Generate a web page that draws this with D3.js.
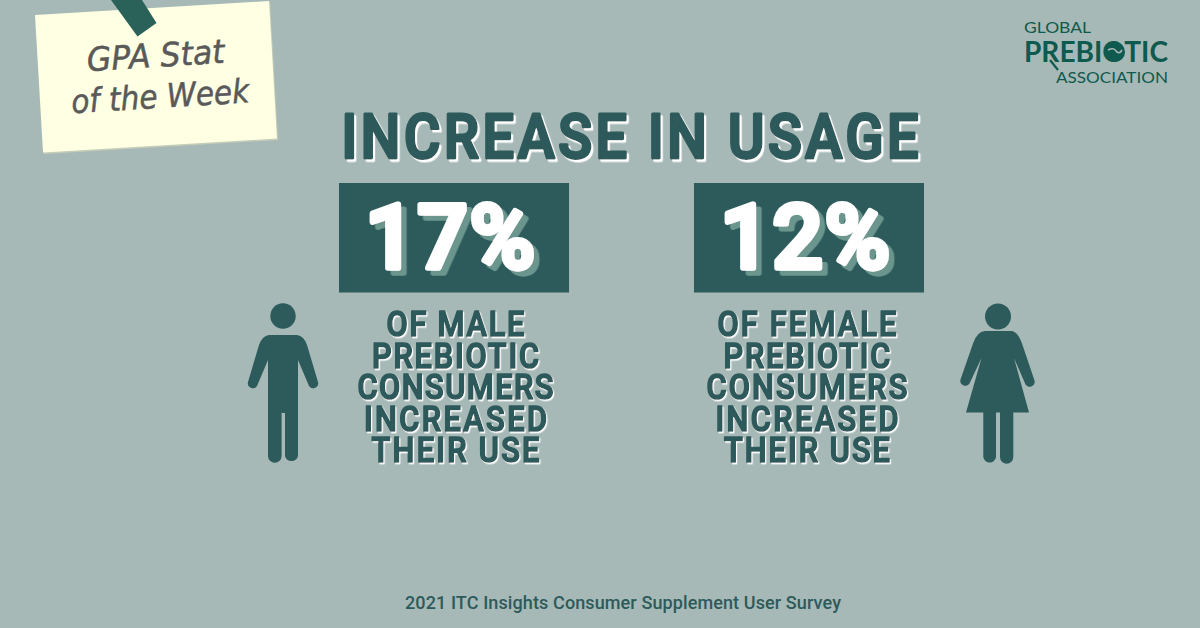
<!DOCTYPE html>
<html>
<head>
  <meta charset="UTF-8" />
  <title>GPA Stat of the Week</title>
  <script src="https://d3js.org/d3.v7.min.js"></script>
  <style>
    html, body { margin: 0; padding: 0; background: #a6b9b6; }
    svg { display: block; }
    text { text-anchor: middle; }
    .head { font-family: Roboto, sans-serif; font-weight: 500; stroke-linejoin: round; }
  </style>
</head>
<body>
  <svg id="chart" width="1200" height="628"></svg>
  <script>
    const genders = ["male", "female"];
    const percents = [17, 12];
    const percentWidths = [170, 170];
    const maleLines = ["OF MALE", "PREBIOTIC", "CONSUMERS", "INCREASED", "THEIR USE"];
    const femaleLines = ["OF FEMALE", "PREBIOTIC", "CONSUMERS", "INCREASED", "THEIR USE"];
    const maleWidths = [140, 169, 198, 185, 170];
    const femaleWidths = [181, 169, 203, 185, 168];
    const titleText = "INCREASE IN USAGE";
    const noteLines = ["GPA Stat", "of the Week"];
    const sourceText = "2021 ITC Insights Consumer Supplement User Survey";

    const dark = "#2d5a5b", bg = "#a6b9b6";

    const svg = d3.select("#chart");
    svg.append("rect").attr("width", 1200).attr("height", 628).attr("fill", bg);

    // hard offset shadows, so each label stays a single text element
    const defs = svg.append("defs");
    function shadowFilter(id, dx, dy, color) {
      const f = defs.append("filter").attr("id", id)
        .attr("x", "-10%").attr("y", "-20%").attr("width", "120%").attr("height", "140%");
      f.append("feDropShadow").attr("dx", dx).attr("dy", dy)
        .attr("stdDeviation", 0).attr("flood-color", color).attr("flood-opacity", 1);
    }
    shadowFilter("titleShadow", 2.4, 2.5, "#ffffff");
    shadowFilter("lineShadow", 1.4, 1.5, "#ffffff");
    shadowFilter("percentShadow", 5.5, 5, "#6b968e");

    // sticky note, top left
    const note = svg.append("g");
    note.append("polygon").attr("points", "36,16 270,2 278,140 44,154").attr("fill", "#c5cdb8");
    note.append("polygon").attr("points", "35,15 269,1 277,138.5 43,152.5").attr("fill", "#feffe3");
    note.append("polygon").attr("points", "111,0 142,0 156.5,23 137.5,36.5").attr("fill", "#2a6259");
    const noteText = note.append("g")
      .attr("transform", "translate(156,77) rotate(-3.5)");
    noteText.selectAll("text").data(noteLines).join("text")
      .attr("x", (d, i) => i ? 3 : 1)
      .attr("y", (d, i) => i ? 31 : -10)
      .attr("textLength", (d, i) => i ? 178 : 138)
      .attr("lengthAdjust", "spacingAndGlyphs")
      .attr("font-family", "'DejaVu Sans', sans-serif")
      .attr("font-style", "oblique")
      .attr("font-size", 33)
      .attr("fill", "#595959")
      .attr("stroke", "#595959")
      .attr("stroke-width", 0.5)
      .text(d => d);

    // logo, top right
    const logoColor = "#0f5a4e";
    const logo = svg.append("g").attr("fill", logoColor).attr("font-family", "Lato, sans-serif");
    logo.append("text").attr("x", 1057.5).attr("y", 33).attr("font-size", 15.5).attr("font-weight", 400)
      .attr("textLength", 67).attr("lengthAdjust", "spacingAndGlyphs").text("GLOBAL");
    logo.append("text").attr("x", 1096).attr("y", 62).attr("font-size", 28).attr("font-weight", 700)
      .attr("textLength", 144).attr("lengthAdjust", "spacingAndGlyphs").text("PREBIOTIC");
    logo.append("text").attr("x", 1112).attr("y", 83).attr("font-size", 15.5).attr("font-weight", 400)
      .attr("textLength", 112).attr("lengthAdjust", "spacingAndGlyphs").text("ASSOCIATION");
    logo.append("line").attr("x1", 1050).attr("y1", 60).attr("x2", 1058).attr("y2", 70)
      .attr("stroke", logoColor).attr("stroke-width", 2.2);
    logo.append("circle").attr("cx", 1115).attr("cy", 52).attr("r", 10);
    logo.append("path").attr("d", "M1108,50 Q1114,47 1116,51 Q1119,55 1122,50")
      .attr("fill", "none").attr("stroke", bg).attr("stroke-width", 1.6);

    // heading text: squeezed glyphs, open spacing, rounded by the stroke, hard shadow
    function shadowText(g, txt, x, y, size, width, opts) {
      const sx = opts.squeeze;
      g.append("text").attr("class", "head")
        .attr("transform", `translate(${x},${y}) scale(${sx},1)`)
        .attr("font-size", size)
        .attr("textLength", width / sx).attr("lengthAdjust", "spacing")
        .attr("fill", opts.fill).attr("stroke", opts.fill).attr("stroke-width", opts.stroke)
        .attr("filter", `url(#${opts.filter})`)
        .text(txt);
    }

    shadowText(svg.append("g"), titleText, 630, 158, 62, 577,
      { filter: "titleShadow", fill: dark, stroke: 3, squeeze: 0.9 });

    const x = d3.scaleBand().domain(genders).range([339, 924]).paddingInner(0.352);
    const lineY = d3.scalePoint().domain(d3.range(5)).range([336, 462]);

    const panels = svg.selectAll("g.panel").data(genders).join("g").attr("class", "panel");
    panels.append("rect")
      .attr("x", d => x(d)).attr("y", 183)
      .attr("width", x.bandwidth()).attr("height", 109.5)
      .attr("fill", dark);

    panels.each(function (d, i) {
      const g = d3.select(this);
      const cx = x(d) + x.bandwidth() / 2;
      shadowText(g, percents[i] + "%", cx - 4, 268, 89, percentWidths[i],
        { filter: "percentShadow", fill: "#ffffff", stroke: 5.5, squeeze: 1 });
      const lines = i ? femaleLines : maleLines;
      const widths = i ? femaleWidths : maleWidths;
      lines.forEach((t, j) => {
        shadowText(g, t, cx + (i ? -2 : 1.5), lineY(j), 35, widths[j] - 2,
          { filter: "lineShadow", fill: dark, stroke: 1.7, squeeze: 0.88 });
      });
    });

    // pictograms, local origin at the head centre
    const malePath = "M-14,19 Q-21,20 -24,29 L-35,66 A5 5 0 0 0 -26,70 L-15,44 V140 " +
      "A6.7 6.7 0 0 0 -1.4,140 V97 H2 V140 A6.7 6.7 0 0 0 15,140 V44 L26,70 A5 5 0 0 0 35,66 " +
      "L24,29 Q21,20 14,19 Z";
    const femalePath = "M-13,14.5 Q-21,15 -25,27 L-37.5,63 A5 5 0 0 0 -28.5,67 L-16.5,41.5 " +
      "L-32,96 H-14.7 V140.5 A6.4 6.4 0 0 0 -2,140.5 V96 H2 V140.5 A6.5 6.5 0 0 0 15.3,140.5 V96 " +
      "H31 L16,41.5 L27.5,68 A5 5 0 0 0 36.5,64 L24,27 Q20,15 13,14.5 Z";
    const icons = svg.selectAll("g.icon")
      .data([{ x: 283, y: 316, r: 12.7, d: malePath }, { x: 998, y: 316.5, r: 13, d: femalePath }])
      .join("g").attr("class", "icon")
      .attr("transform", d => `translate(${d.x},${d.y})`)
      .attr("fill", dark);
    icons.append("circle").attr("r", d => d.r);
    icons.append("path").attr("d", d => d.d);

    // source line
    svg.append("text")
      .attr("x", 623).attr("y", 608.5)
      .attr("font-family", "Roboto, sans-serif").attr("font-weight", 500).attr("font-size", 18)
      .attr("textLength", 436).attr("lengthAdjust", "spacing")
      .attr("fill", dark).text(sourceText);
  </script>
</body>
</html>
